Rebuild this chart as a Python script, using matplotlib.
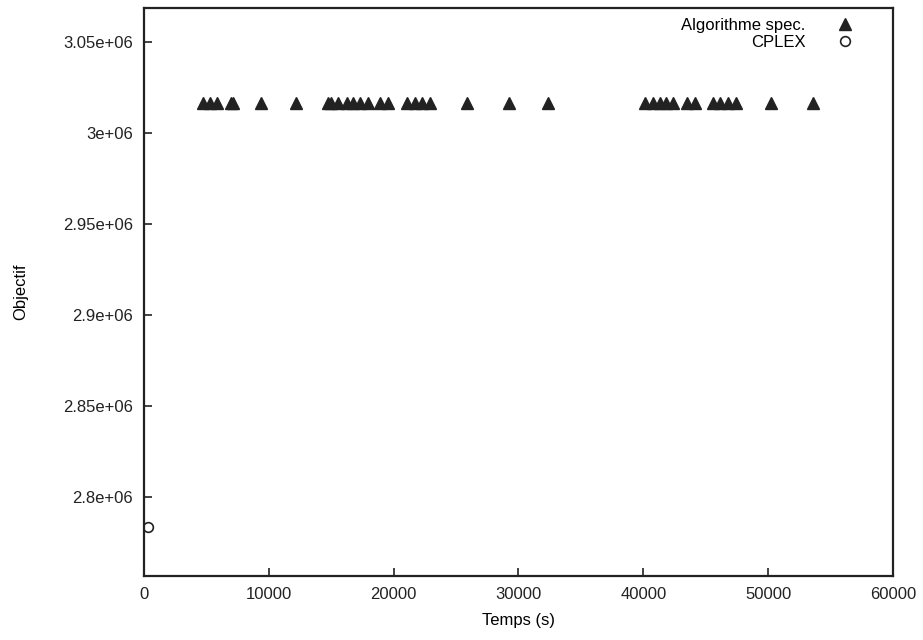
import matplotlib.pyplot as plt
import numpy as np

plt.rcParams['font.family'] = ['Liberation Sans', 'DejaVu Sans']

# Temps (s) of each solution found by the specialised algorithm
algo_temps = [4730, 5290, 5850, 6970, 7130, 9375, 12180, 14740, 14980, 15540,
              16270, 16750, 17310, 17950, 18910, 19550, 21070, 21710, 22280,
              22920, 25880, 29250, 32370, 40140, 40790, 41350, 41830, 42390,
              43510, 44150, 45600, 46150, 46790, 47440, 50240, 53610]
algo_obj = 3.0165e6

cplex_temps = [320]
cplex_obj = [2.7835e6]

xticks = [0, 10000, 20000, 30000, 40000, 50000, 60000]
yticks = [2.8e6, 2.85e6, 2.9e6, 2.95e6, 3.0e6, 3.05e6]
ytick_labels = ['2.8e+06', '2.85e+06', '2.9e+06', '2.95e+06', '3e+06', '3.05e+06']

fig = plt.figure(figsize=(9.23, 6.4), dpi=100)
ax = fig.add_axes([0.156, 0.1, 0.8115, 0.8875])

ax.plot(algo_temps, [algo_obj] * len(algo_temps), linestyle='none', marker='^',
        markersize=8.5, color='#222222', label='Algorithme spec.')
ax.plot(cplex_temps, cplex_obj, linestyle='none', marker='o', markersize=7,
        markerfacecolor='white', markeredgecolor='#222222', markeredgewidth=1.2,
        label='CPLEX')

ax.set_xlim(0, 60000)
ax.set_ylim(2.7565e6, 3.0685e6)
ax.set_xticks(xticks)
ax.set_xticklabels([str(t) for t in xticks])
ax.set_yticks(yticks)
ax.set_yticklabels(ytick_labels)
ax.tick_params(direction='in', length=6, width=1.2, labelsize=12, pad=8, colors='#222222')

for s in ax.spines.values():
    s.set_linewidth(1.6)
    s.set_color('#222222')

ax.set_xlabel('Temps (s)', fontsize=12, labelpad=8)
ax.set_ylabel('Objectif', fontsize=12, labelpad=25)

ax.legend(loc='upper right', frameon=False, markerfirst=False, fontsize=12,
          handletextpad=1.4, borderaxespad=0.2, labelspacing=0.1,
          bbox_to_anchor=(0.972, 1.0))

fig.savefig('out.png', dpi=100)
